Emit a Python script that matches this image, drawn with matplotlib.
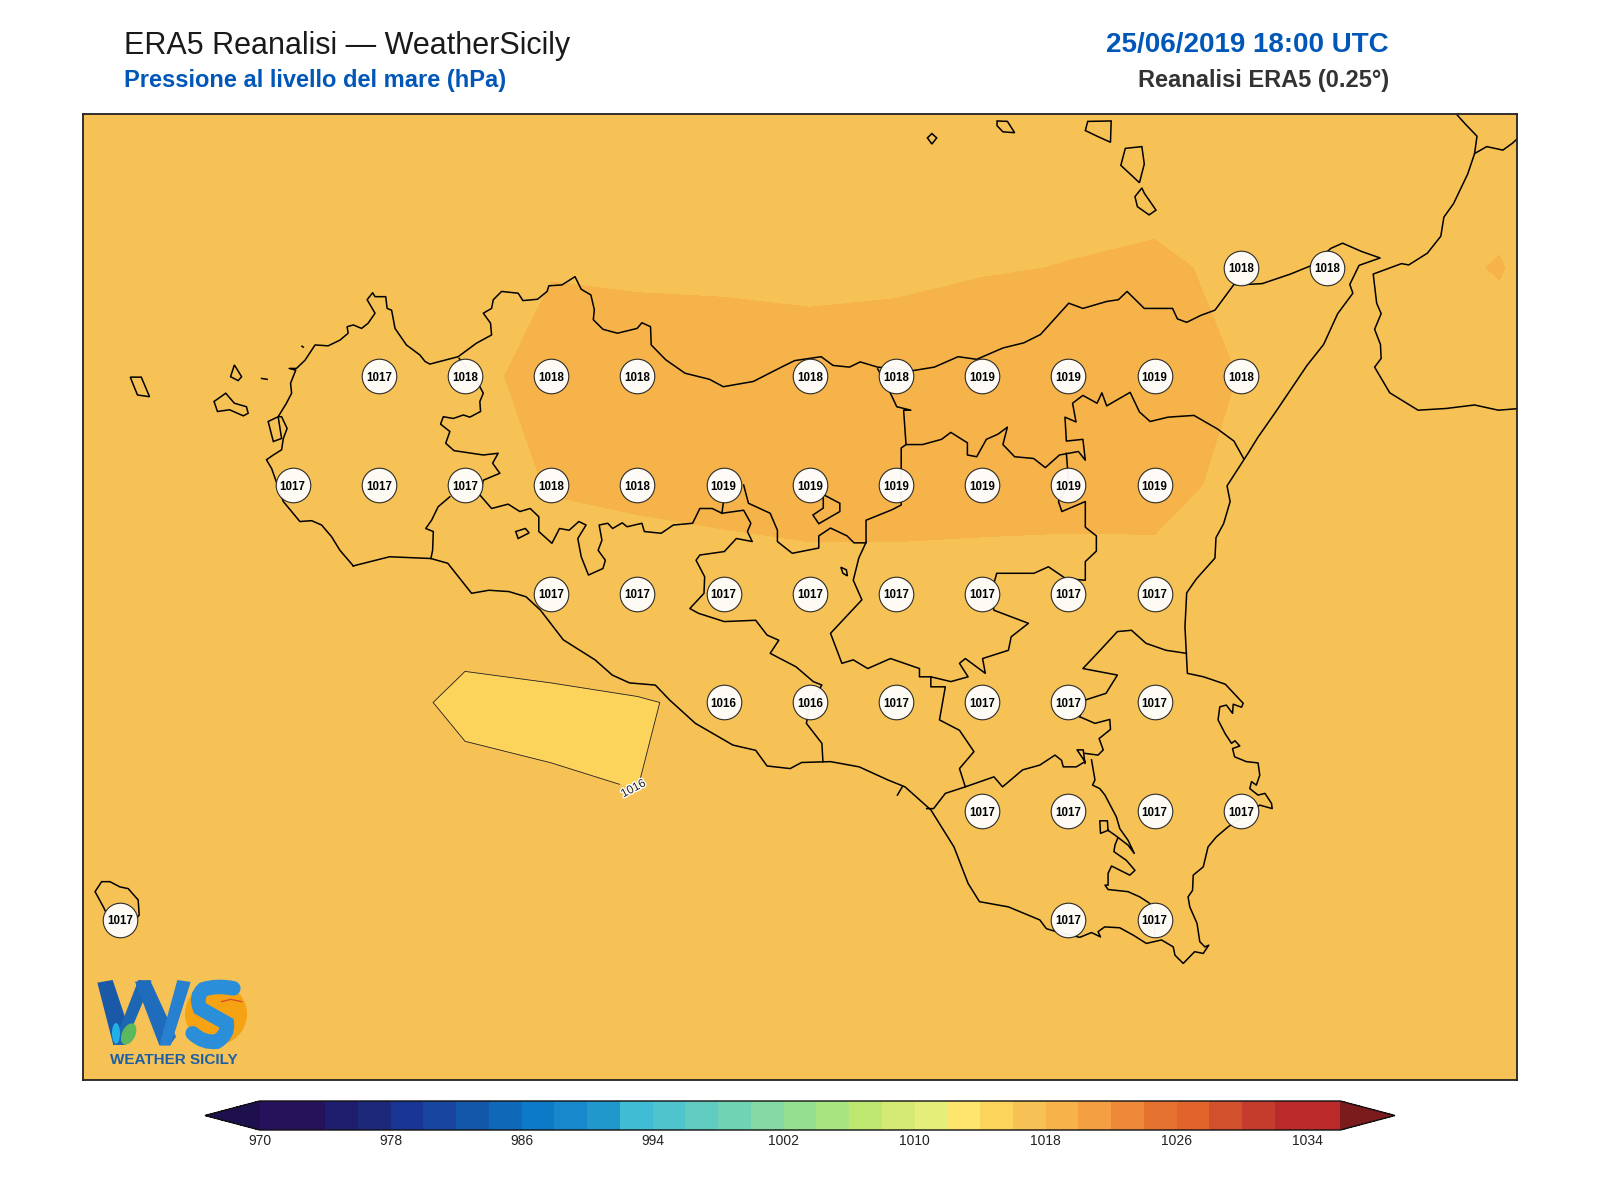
import numpy as np
import matplotlib
matplotlib.use('Agg')
import matplotlib.pyplot as plt
import matplotlib.patheffects as pe
from matplotlib.colors import ListedColormap, BoundaryNorm
from matplotlib.patches import Circle, Ellipse, Polygon, PathPatch
from matplotlib.path import Path

plt.rcParams['font.family'] = ['Liberation Sans', 'DejaVu Sans']

# ERA5 grid, 0.25 degrees, north to south
lons = [11.75, 12.0, 12.25, 12.5, 12.75, 13.0, 13.25, 13.5, 13.75, 14.0, 14.25, 14.5, 14.75, 15.0, 15.25, 15.5, 15.75, 16.0, 16.25]
lats = [38.75, 38.5, 38.25, 38.0, 37.75, 37.5, 37.25, 37.0, 36.75, 36.5, 36.25]

slp_3875 = [1017.2, 1017.2, 1017.3, 1017.3, 1017.3, 1017.4, 1017.4, 1017.4, 1017.5, 1017.5, 1017.5, 1017.5, 1017.5, 1017.6, 1017.6, 1017.5, 1017.5, 1017.5, 1017.4]
slp_3850 = [1017.2, 1017.2, 1017.3, 1017.3, 1017.4, 1017.4, 1017.5, 1017.55, 1017.6, 1017.55, 1017.6, 1017.65, 1017.7, 1017.77, 1017.7, 1017.6, 1017.6, 1017.6, 1017.5]
slp_3825 = [1017.0, 1017.1, 1017.2, 1017.3, 1017.4, 1017.6, 1017.97, 1017.88, 1017.83, 1017.77, 1017.84, 1017.94, 1018.02, 1018.08, 1017.9, 1017.8, 1017.73, 1018.05, 1017.3]
slp_3800 = [1016.9, 1017.0, 1017.1, 1017.2, 1017.4, 1017.83, 1018.2, 1018.4, 1018.45, 1018.4, 1018.4, 1018.6, 1018.6, 1018.6, 1017.97, 1017.7, 1017.6, 1017.6, 1017.4]
slp_3775 = [1016.9, 1017.0, 1017.1, 1017.2, 1017.3, 1017.4, 1018.07, 1018.3, 1018.55, 1018.6, 1018.6, 1018.6, 1018.6, 1018.6, 1017.52, 1017.5, 1017.5, 1017.5, 1017.4]
slp_3750 = [1016.8, 1016.85, 1016.9, 1016.95, 1016.95, 1016.5, 1017.37, 1017.2, 1017.19, 1017.45, 1017.45, 1017.34, 1017.24, 1017.28, 1017.3, 1017.3, 1017.3, 1017.3, 1017.2]
slp_3725 = [1016.8, 1016.8, 1016.7, 1016.6, 1016.34, 1015.8, 1015.7, 1015.93, 1016.2, 1016.4, 1016.7, 1016.9, 1017.0, 1017.1, 1017.1, 1017.1, 1017.1, 1017.1, 1017.1]
slp_3700 = [1016.8, 1016.8, 1016.7, 1016.6, 1016.5, 1016.36, 1016.24, 1016.017, 1016.3, 1016.5, 1016.7, 1016.9, 1017.0, 1017.0, 1017.0, 1017.0, 1017.0, 1017.0, 1017.0]
slp_3675 = [1016.9, 1016.9, 1016.8, 1016.7, 1016.7, 1016.6, 1016.5, 1016.5, 1016.6, 1016.7, 1016.8, 1016.9, 1017.0, 1017.0, 1017.0, 1017.0, 1017.0, 1017.0, 1017.0]
slp_3650 = [1016.9, 1016.9, 1016.8, 1016.8, 1016.7, 1016.7, 1016.7, 1016.7, 1016.7, 1016.8, 1016.8, 1016.9, 1016.9, 1017.0, 1017.0, 1017.0, 1017.0, 1017.0, 1017.0]
slp_3625 = [1016.9, 1016.9, 1016.9, 1016.8, 1016.8, 1016.8, 1016.8, 1016.8, 1016.8, 1016.8, 1016.9, 1016.9, 1016.9, 1017.0, 1017.0, 1017.0, 1017.0, 1017.0, 1017.0]

# grid points over land that carry a value label
label_points = {
    38.25: [15.25, 15.5],
    38.0: [12.75, 13.0, 13.25, 13.5, 14.0, 14.25, 14.5, 14.75, 15.0, 15.25],
    37.75: [12.5, 12.75, 13.0, 13.25, 13.5, 13.75, 14.0, 14.25, 14.5, 14.75, 15.0],
    37.5: [13.25, 13.5, 13.75, 14.0, 14.25, 14.5, 14.75, 15.0],
    37.25: [13.75, 14.0, 14.25, 14.5, 14.75, 15.0],
    37.0: [14.5, 14.75, 15.0, 15.25],
    36.75: [12.0, 14.75, 15.0],
}

# colour scale, one colour per 2 hPa class from 970 up to 1036
levels = list(range(970, 1038, 2))
colorbar_ticks = list(range(970, 1036, 8))
class_colors = ['#25125a', '#25125a', '#1f1d6e', '#1d2878', '#193594', '#1745a0', '#1357a8', '#0f68b8', '#0d7ac8',
                '#1888cc', '#2098cc', '#40bcd4', '#50c4cc', '#60ccc0', '#70d4b4', '#84d8a4', '#94df90', '#a8e480',
                '#bde76e', '#d4ea74', '#e4ee78', '#fde56e', '#fcd45c', '#f7c255', '#f5b34a', '#f39f42', '#ee893a',
                '#e6722f', '#e1642c', '#d2502c', '#c63c2c', '#ba2a2a', '#ba2a2a']

# coast and province borders, lon/lat
sicily_lon = [12.676, 12.637, 12.613, 12.584, 12.555, 12.521, 12.497, 12.473, 12.439, 12.424, 12.444, 12.468, 12.473, 12.484, 12.468, 12.458, 12.482, 12.497, 12.494, 12.509, 12.49, 12.511, 12.536, 12.565, 12.603, 12.637, 12.661, 12.658, 12.676, 12.7, 12.719, 12.739, 12.716, 12.732, 12.739, 12.77, 12.774, 12.787, 12.797, 12.83, 12.869, 12.884, 12.898, 12.946, 12.98, 13.033, 13.077, 13.074, 13.053, 13.077, 13.082, 13.106, 13.154, 13.168, 13.21, 13.238, 13.243, 13.281, 13.319, 13.337, 13.365, 13.375, 13.372, 13.4, 13.442, 13.499, 13.513, 13.538, 13.54, 13.582, 13.638, 13.709, 13.749, 13.836, 13.92, 13.956, 14.033, 14.067, 14.115, 14.146, 14.197, 14.299, 14.361, 14.43, 14.484, 14.56, 14.621, 14.669, 14.751, 14.792, 14.861, 14.895, 14.92, 14.97, 15.052, 15.066, 15.093, 15.134, 15.175, 15.23, 15.264, 15.312, 15.394, 15.456, 15.511, 15.545, 15.6, 15.654, 15.593, 15.566, 15.575, 15.531, 15.49, 15.442, 15.351, 15.299, 15.271, 15.21, 15.219, 15.2, 15.178, 15.175, 15.121, 15.093, 15.088, 15.095, 15.142, 15.205, 15.257, 15.252, 15.228, 15.226, 15.208, 15.189, 15.184, 15.204, 15.223, 15.233, 15.247, 15.226, 15.232, 15.266, 15.3, 15.305, 15.295, 15.281, 15.276, 15.3, 15.32, 15.339, 15.341, 15.305, 15.213, 15.179, 15.155, 15.141, 15.112, 15.11, 15.097, 15.102, 15.123, 15.131, 15.146, 15.157, 15.141, 15.116, 15.083, 15.059, 15.054, 15.02, 14.976, 14.938, 14.899, 14.855, 14.836, 14.843, 14.817, 14.783, 14.715, 14.686, 14.667, 14.576, 14.492, 14.459, 14.418, 14.351, 14.276, 14.226, 14.143, 14.06, 13.976, 13.943, 13.876, 13.843, 13.777, 13.727, 13.668, 13.593, 13.552, 13.477, 13.427, 13.377, 13.285, 13.219, 13.177, 13.127, 13.069, 13.019, 12.95, 12.901, 12.781, 12.676]
sicily_lat = [37.564, 37.6, 37.631, 37.658, 37.668, 37.666, 37.689, 37.712, 37.788, 37.808, 37.819, 37.831, 37.857, 37.88, 37.907, 37.907, 37.938, 37.961, 37.984, 38.014, 38.018, 38.018, 38.037, 38.072, 38.07, 38.083, 38.099, 38.114, 38.118, 38.11, 38.122, 38.145, 38.176, 38.192, 38.183, 38.183, 38.156, 38.152, 38.11, 38.072, 38.049, 38.034, 38.028, 38.038, 38.045, 38.076, 38.095, 38.122, 38.145, 38.156, 38.176, 38.195, 38.191, 38.174, 38.177, 38.195, 38.208, 38.21, 38.229, 38.2, 38.187, 38.153, 38.13, 38.108, 38.099, 38.11, 38.123, 38.114, 38.072, 38.038, 38.007, 37.993, 37.976, 37.988, 38.022, 38.036, 38.045, 38.025, 38.021, 38.033, 38.021, 38.013, 38.021, 38.045, 38.039, 38.065, 38.077, 38.096, 38.168, 38.156, 38.172, 38.176, 38.195, 38.156, 38.156, 38.132, 38.124, 38.14, 38.152, 38.211, 38.211, 38.213, 38.235, 38.255, 38.294, 38.306, 38.287, 38.272, 38.255, 38.211, 38.191, 38.144, 38.073, 38.025, 37.918, 37.859, 37.823, 37.748, 37.712, 37.661, 37.629, 37.582, 37.534, 37.502, 37.424, 37.317, 37.309, 37.292, 37.248, 37.239, 37.246, 37.225, 37.244, 37.24, 37.21, 37.179, 37.156, 37.162, 37.15, 37.144, 37.125, 37.114, 37.111, 37.083, 37.06, 37.068, 37.052, 37.037, 37.041, 37.018, 37.006, 37.014, 36.964, 36.941, 36.918, 36.872, 36.853, 36.818, 36.803, 36.78, 36.742, 36.7, 36.688, 36.692, 36.673, 36.677, 36.65, 36.669, 36.688, 36.704, 36.696, 36.715, 36.732, 36.734, 36.723, 36.711, 36.721, 36.71, 36.723, 36.73, 36.75, 36.78, 36.792, 36.834, 36.918, 37.003, 37.056, 37.072, 37.102, 37.114, 37.112, 37.098, 37.104, 37.14, 37.152, 37.175, 37.202, 37.256, 37.29, 37.295, 37.313, 37.348, 37.394, 37.462, 37.493, 37.505, 37.508, 37.501, 37.57, 37.581, 37.585, 37.564]

calabria_lon = [15.867, 15.901, 15.935, 15.928, 15.908, 15.867, 15.839, 15.83, 15.791, 15.737, 15.716, 15.634, 15.644, 15.657, 15.638, 15.655, 15.657, 15.638, 15.682, 15.764, 15.846, 15.928, 15.997, 16.06]
calabria_lat = [38.61, 38.58, 38.552, 38.512, 38.465, 38.397, 38.366, 38.322, 38.283, 38.256, 38.259, 38.235, 38.168, 38.144, 38.108, 38.073, 38.041, 38.021, 37.962, 37.922, 37.926, 37.934, 37.922, 37.926]
calabria_branch_lon = [15.928, 15.963, 16.01, 16.038, 16.06]
calabria_branch_lat = [38.512, 38.528, 38.52, 38.536, 38.552]

borders = [
    ([12.983, 13.043, 13.053, 13.043, 13.045, 13.014, 12.995, 12.966, 12.937, 12.929, 12.956, 12.944, 12.968, 13.053, 13.096, 13.08, 13.101, 13.053, 13.043],
     [38.041, 37.976, 37.961, 37.942, 37.919, 37.906, 37.911, 37.903, 37.907, 37.89, 37.873, 37.846, 37.829, 37.819, 37.823, 37.8, 37.777, 37.761, 37.727]),
    ([12.956, 12.922, 12.903, 12.886, 12.908, 12.906, 12.901],
     [37.723, 37.7, 37.669, 37.65, 37.643, 37.6, 37.581]),
    ([13.043, 13.077, 13.125, 13.159, 13.189, 13.214, 13.214, 13.252, 13.274, 13.302, 13.33, 13.351, 13.327, 13.337, 13.358, 13.4, 13.407, 13.386, 13.397, 13.389, 13.414, 13.428, 13.456, 13.47, 13.513, 13.52, 13.569, 13.604, 13.66, 13.681, 13.717, 13.745, 13.808, 13.829, 13.819, 13.833, 13.787, 13.752, 13.681, 13.67, 13.695, 13.693, 13.652, 13.677, 13.752, 13.843, 13.876, 13.91, 13.885, 13.96, 14.01, 14.035, 14.001, 13.99, 14.035, 14.038],
     [37.727, 37.696, 37.706, 37.689, 37.696, 37.677, 37.643, 37.616, 37.65, 37.646, 37.666, 37.658, 37.627, 37.585, 37.543, 37.558, 37.577, 37.6, 37.623, 37.658, 37.662, 37.65, 37.663, 37.654, 37.662, 37.643, 37.639, 37.658, 37.662, 37.696, 37.696, 37.685, 37.692, 37.662, 37.643, 37.62, 37.627, 37.597, 37.589, 37.577, 37.539, 37.501, 37.466, 37.455, 37.436, 37.439, 37.405, 37.393, 37.363, 37.332, 37.298, 37.29, 37.248, 37.202, 37.156, 37.114]),
    ([13.749, 13.745], [37.708, 37.685]),
    ([13.808, 13.822, 13.885, 13.906, 13.906, 13.949, 14.019, 14.026, 14.026, 14.06, 14.108, 14.128, 14.163],
     [37.75, 37.708, 37.685, 37.646, 37.62, 37.593, 37.604, 37.605, 37.633, 37.651, 37.633, 37.617, 37.617]),
    ([14.197, 14.238, 14.252, 14.293, 14.272, 14.279, 14.265, 14.265, 14.238, 14.163, 14.163],
     [38.017, 37.954, 37.93, 37.922, 37.922, 37.843, 37.835, 37.704, 37.693, 37.669, 37.619]),
    ([14.279, 14.327, 14.382, 14.409, 14.457, 14.457, 14.484, 14.512, 14.546, 14.573, 14.56, 14.594, 14.649, 14.683, 14.724, 14.779, 14.799, 14.792, 14.744, 14.74, 14.772, 14.762, 14.792, 14.833, 14.847, 14.861, 14.929, 14.956, 14.987, 15.039, 15.114, 15.182, 15.23, 15.258],
     [37.843, 37.843, 37.855, 37.871, 37.847, 37.819, 37.815, 37.855, 37.867, 37.883, 37.843, 37.815, 37.811, 37.79, 37.819, 37.827, 37.807, 37.855, 37.851, 37.906, 37.895, 37.938, 37.956, 37.938, 37.962, 37.932, 37.963, 37.918, 37.896, 37.906, 37.91, 37.879, 37.851, 37.811]),
    ([14.744, 14.751, 14.721, 14.731, 14.799, 14.799, 14.831, 14.831, 14.799, 14.799, 14.742, 14.692, 14.65, 14.576, 14.542, 14.526, 14.534, 14.634, 14.584, 14.576, 14.501, 14.509, 14.451, 14.434, 14.459, 14.409, 14.351, 14.318, 14.318, 14.234, 14.168, 14.126, 14.093, 14.06, 14.151, 14.126, 14.142, 14.16, 14.163],
     [37.823, 37.752, 37.712, 37.689, 37.712, 37.653, 37.633, 37.598, 37.574, 37.531, 37.535, 37.562, 37.547, 37.547, 37.547, 37.501, 37.462, 37.432, 37.401, 37.37, 37.351, 37.317, 37.351, 37.34, 37.309, 37.298, 37.309, 37.309, 37.328, 37.351, 37.328, 37.348, 37.34, 37.409, 37.486, 37.531, 37.582, 37.613, 37.619]),
    ([14.351, 14.351, 14.393, 14.376, 14.434, 14.476, 14.434, 14.451, 14.393, 14.359, 14.339],
     [37.309, 37.286, 37.286, 37.21, 37.186, 37.137, 37.098, 37.056, 37.041, 37.006, 37.006]),
    ([14.451, 14.534, 14.559, 14.617, 14.667, 14.711, 14.73, 14.735, 14.773, 14.798, 14.775, 14.793, 14.798],
     [37.056, 37.079, 37.056, 37.095, 37.106, 37.129, 37.117, 37.102, 37.102, 37.114, 37.141, 37.141, 37.11]),
    ([14.817, 14.827, 14.82, 14.841, 14.856, 14.889, 14.899, 14.923, 14.941, 14.923, 14.885, 14.865, 14.843, 14.841, 14.863, 14.865],
     [37.118, 37.072, 37.06, 37.052, 37.037, 36.987, 36.96, 36.933, 36.903, 36.922, 36.945, 36.956, 36.949, 36.978, 36.978, 36.956]),
    ([14.893, 14.885, 14.882, 14.918, 14.943, 14.928, 14.875, 14.865, 14.865, 14.856, 14.865, 14.923, 14.957, 14.986, 15.0, 15.0],
     [36.938, 36.922, 36.907, 36.887, 36.864, 36.853, 36.874, 36.857, 36.83, 36.83, 36.82, 36.815, 36.803, 36.788, 36.75, 36.711]),
    ([14.783, 14.827, 14.87, 14.872, 14.839, 14.851, 14.836, 14.798],
     [37.217, 37.202, 37.211, 37.188, 37.167, 37.141, 37.129, 37.133]),
    ([14.783, 14.8, 14.859, 14.892, 14.792, 14.842, 14.892, 14.933, 14.975, 15.033, 15.092],
     [37.217, 37.256, 37.271, 37.313, 37.328, 37.37, 37.413, 37.416, 37.386, 37.37, 37.363]),
    ([14.254, 14.268], [37.037, 37.056]),
    ([12.41, 12.426], [37.995, 37.993]),
    ([12.527, 12.531], [38.069, 38.067]),
]

islands = [
    ([12.029, 12.061, 12.085, 12.05], [37.998, 37.998, 37.953, 37.957]),
    ([12.331, 12.352, 12.342, 12.32], [38.026, 37.999, 37.99, 37.999]),
    ([12.272, 12.306, 12.331, 12.366, 12.371, 12.357, 12.317, 12.282], [37.942, 37.961, 37.938, 37.93, 37.915, 37.909, 37.923, 37.919]),
    ([12.429, 12.458, 12.468, 12.444], [37.896, 37.907, 37.857, 37.85]),
    ([14.354, 14.368, 14.354, 14.341], [38.558, 38.548, 38.534, 38.548]),
    ([14.543, 14.573, 14.594, 14.56, 14.543], [38.587, 38.586, 38.56, 38.562, 38.576]),
    ([14.806, 14.874, 14.872, 14.833, 14.799], [38.586, 38.587, 38.538, 38.552, 38.565]),
    ([14.915, 14.963, 14.97, 14.956, 14.929, 14.902], [38.524, 38.528, 38.488, 38.445, 38.465, 38.485]),
    ([14.963, 14.97, 15.004, 14.984, 14.95, 14.943], [38.433, 38.421, 38.382, 38.371, 38.39, 38.413]),
    ([11.946, 11.97, 11.999, 12.023, 12.052, 12.055, 12.03, 11.975, 11.951, 11.927], [36.838, 36.838, 36.826, 36.822, 36.796, 36.761, 36.74, 36.74, 36.78, 36.815]),
    ([14.09, 14.106, 14.109, 14.096], [37.561, 37.555, 37.541, 37.547]),
    ([13.147, 13.175, 13.186, 13.154], [37.643, 37.65, 37.64, 37.627]),
    ([14.039, 14.087, 14.087, 14.026, 14.009, 14.039], [37.728, 37.708, 37.689, 37.661, 37.681, 37.697]),
]

fig = plt.figure(figsize=(16, 12), dpi=100, facecolor='white')
ax = fig.add_axes([83 / 1600, 1 - 1080 / 1200, 1434 / 1600, 966 / 1200])

slp = np.array([slp_3875, slp_3850, slp_3825, slp_3800, slp_3775, slp_3750, slp_3725, slp_3700, slp_3675, slp_3650, slp_3625])
cmap = ListedColormap(class_colors)
cmap.set_under('#1e0f4e')
cmap.set_over('#7b1b1c')
norm = BoundaryNorm(levels, len(class_colors))

cf = ax.contourf(lons, lats, slp, levels=levels, cmap=cmap, norm=norm, extend='both', zorder=1)
cs = ax.contour(lons, lats, slp, levels=list(range(972, 1036, 4)), colors='#222222', linewidths=0.6, zorder=2)
lab = ax.clabel(cs, manual=[(13.49, 37.055)], fmt='%d', fontsize=8.5, inline=True, inline_spacing=0)
for t in lab:
    t.set_path_effects([pe.withStroke(linewidth=2, foreground='white')])
    t.set_color('#222222')
    t.set_rotation(28)

ax.plot(sicily_lon, sicily_lat, color='black', lw=1.1, zorder=3)
ax.plot(calabria_lon, calabria_lat, color='black', lw=1.1, zorder=3)
ax.plot(calabria_branch_lon, calabria_branch_lat, color='black', lw=1.1, zorder=3)
for bx, by in borders:
    ax.plot(bx, by, color='black', lw=1.1, zorder=3)
for ix, iy in islands:
    ax.fill(ix, iy, facecolor='none', edgecolor='black', lw=1.1, zorder=3)

for lat, point_lons in label_points.items():
    for lon in point_lons:
        val = slp[lats.index(lat), lons.index(lon)]
        ax.scatter([lon], [lat], s=620, facecolor='white', edgecolor='#222222', linewidths=0.8, alpha=0.95, zorder=4)
        ax.text(lon, lat, f'{val:.0f}', ha='center', va='center_baseline', fontsize=8.3, fontweight='bold', color='black', zorder=5)

ax.set_xlim(11.892, 16.051)
ax.set_ylim(36.382, 38.603)
ax.set_xticks([])
ax.set_yticks([])
for s in ax.spines.values():
    s.set_linewidth(1.3)
    s.set_color('#222222')
    s.set_zorder(6)

# colour bar, the axes runs from tip to tip of the two arrows
cax = fig.add_axes([205 / 1600, 1 - 1130 / 1200, 1190 / 1600, 29 / 1200])
cb = fig.colorbar(cf, cax=cax, orientation='horizontal', ticks=colorbar_ticks, extendfrac=0.0505)
cb.ax.minorticks_off()
cb.ax.tick_params(length=0, labelsize=10, pad=3, labelcolor='#222222')
cb.outline.set_linewidth(1.0)
cb.outline.set_edgecolor('#111111')

# header
fig.text(124 / 1600, 1 - 46 / 1200, 'ERA5 Reanalisi \u2014 WeatherSicily', fontsize=22, color='#1a1a1a', ha='left', va='center')
fig.text(124 / 1600, 1 - 81 / 1200, 'Pressione al livello del mare (hPa)', fontsize=17, fontweight='bold', color='#0057b8', ha='left', va='center')
fig.text(1389 / 1600, 1 - 45 / 1200, '25/06/2019 18:00 UTC', fontsize=20, fontweight='bold', color='#0057b8', ha='right', va='center')
fig.text(1389 / 1600, 1 - 81 / 1200, 'Reanalisi ERA5 (0.25\u00b0)', fontsize=17, fontweight='bold', color='#333333', ha='right', va='center')

# logo, drawn in a small overlay axes
lg = fig.add_axes([70 / 1600, 1 - 1090 / 1200, 300 / 1600, 230 / 1200], facecolor='none')
lg.set_xlim(0, 900)
lg.set_ylim(690, 0)
lg.axis('off')
lg.add_patch(Circle((438, 462), 93, facecolor='#f6a313', edgecolor='none'))
lg.add_patch(Polygon([(82, 368), (128, 360), (168, 480), (155, 555), (130, 555)], facecolor='#1a58a8', edgecolor='none'))
lg.add_patch(Polygon([(130, 555), (205, 360), (245, 362), (165, 555)], facecolor='#1c66b4', edgecolor='none'))
lg.add_patch(Polygon([(195, 365), (240, 360), (318, 530), (300, 556), (268, 556)], facecolor='#1f6cbc', edgecolor='none'))
lg.add_patch(Polygon([(268, 556), (322, 360), (362, 366), (302, 556)], facecolor='#2880d0', edgecolor='none'))
lg.add_patch(Ellipse((176, 522), 40, 68, angle=25, facecolor='#5cb85c', edgecolor='none'))
lg.add_patch(Ellipse((138, 520), 24, 62, facecolor='#1fb0e6', edgecolor='none'))
s_verts = [(490, 385), (440, 375), (400, 388), (375, 410), (390, 445), (420, 462), (470, 490), (475, 525), (440, 545), (400, 550), (368, 520)]
s_codes = [Path.MOVETO] + [Path.CURVE3] * 10
lg.add_patch(PathPatch(Path(s_verts, s_codes), facecolor='none', edgecolor='#2a8fd8', lw=10.5, capstyle='round'))
lg.plot([455, 482, 515], [425, 418, 425], color='#d2502c', lw=1)
lg.text(310, 600, 'WEATHER SICILY', fontsize=11, fontweight='bold', color='#1a5fa8', ha='center', va='center')

fig.savefig('out.png', dpi=100)
plt.close()
